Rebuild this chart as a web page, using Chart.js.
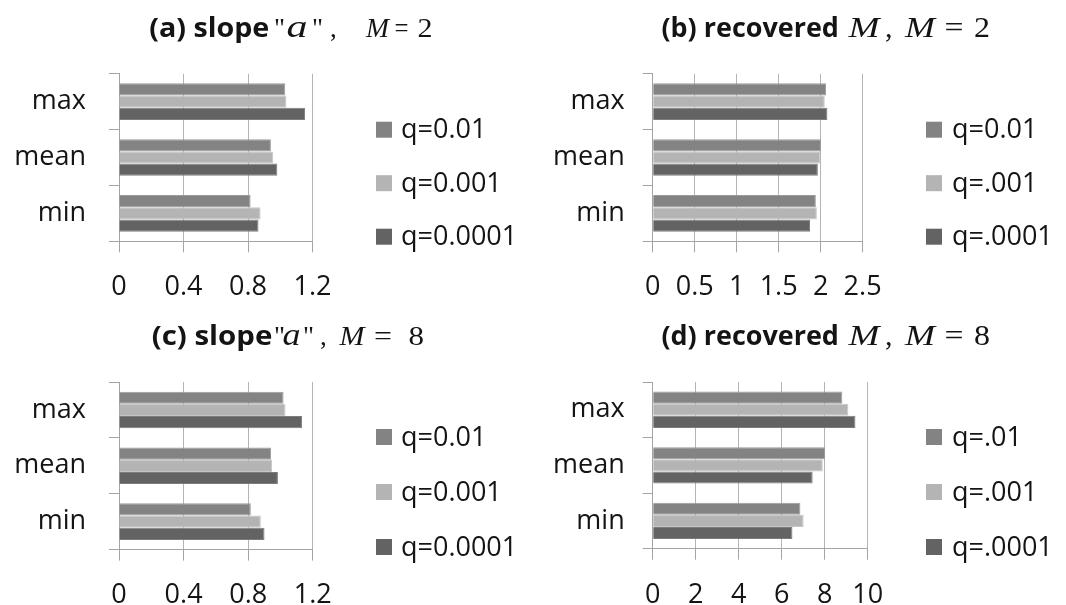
<!DOCTYPE html>
<html>
<head>
<meta charset="utf-8">
<script src="https://cdn.jsdelivr.net/npm/chart.js@4.4.1/dist/chart.umd.min.js"></script>
<style>
  html, body { margin: 0; padding: 0; background: #fff; }
  #wrap { position: relative; width: 1066px; height: 605px; overflow: hidden; }
  canvas { position: absolute; }
</style>
</head>
<body>
<div id="wrap">
  <canvas id="chartA" width="533" height="300" style="left:0;top:0"></canvas>
  <canvas id="chartB" width="533" height="300" style="left:533px;top:0"></canvas>
  <canvas id="chartC" width="533" height="305" style="left:0;top:300px"></canvas>
  <canvas id="chartD" width="533" height="305" style="left:533px;top:300px"></canvas>
</div>
<script>
// categories (top to bottom) and legend labels
const categories = ['max', 'mean', 'min'];
const legendA = ['q=0.01', 'q=0.001', 'q=0.0001'];
const legendB = ['q=0.01', 'q=.001', 'q=.0001'];
const legendD = ['q=.01', 'q=.001', 'q=.0001'];

// (a) slope "a", M = 2
const slopeM2_q01 = [1.031, 0.942, 0.816];
const slopeM2_q001 = [1.038, 0.957, 0.878];
const slopeM2_q0001 = [1.154, 0.982, 0.865];

// (b) recovered M, M = 2
const recM2_q01 = [2.065, 2.004, 1.943];
const recM2_q001 = [2.049, 1.996, 1.955];
const recM2_q0001 = [2.081, 1.967, 1.874];

// (c) slope "a", M = 8
const slopeM8_q01 = [1.019, 0.942, 0.816];
const slopeM8_q001 = [1.031, 0.948, 0.878];
const slopeM8_q0001 = [1.134, 0.984, 0.901];

// (d) recovered M, M = 8
const recM8_q01 = [8.82, 8.02, 6.87];
const recM8_q001 = [9.10, 7.91, 7.02];
const recM8_q0001 = [9.43, 7.44, 6.50];

// value axes: max and step
const slopeAxis = [1.2, 0.4];
const recM2Axis = [2.5, 0.5];
const recM8Axis = [10, 2];

const fillColours = ['#838383', '#b4b4b4', '#636363'];
const edgeColours = ['#9a9a9a', '#c6c6c6', '#7c7c7c'];
const textColour = '#141414';
const gridColour = '#b4b4b4';
const axisColour = '#a4a4a4';
const labelFont = { family: '"Open Sans"', size: 27 };

const BOLD = 'bold 26px "Open Sans"';
const SERIF = '27px "Liberation Serif"';
const ITALIC = 'italic 27px "Liberation Serif"';
const ITALIC_A = 'italic 32px "Liberation Serif"';
const SERIF_L = '30px "Liberation Serif"';
const ITALIC_L = 'italic 30px "Liberation Serif"';

// title with mixed fonts (bold sans + serif math), pieces: [text, font, x, stretchWidth]
const mixedTitlePlugin = {
  id: 'mixedTitle',
  afterDraw(chart, args, o) {
    const { ctx } = chart;
    ctx.save();
    ctx.textBaseline = 'alphabetic';
    ctx.fillStyle = textColour;
    o.pieces.forEach(([text, font, x, w]) => {
      ctx.font = font;
      ctx.save();
      ctx.translate(x, o.baseline);
      if (w) ctx.scale(w / ctx.measureText(text).width, 1);
      ctx.fillText(text, 0, 0);
      ctx.restore();
    });
    ctx.restore();
  }
};

// legend on the right, squares + labels
const sideLegendPlugin = {
  id: 'sideLegend',
  afterDraw(chart, args, o) {
    const { ctx } = chart;
    ctx.save();
    ctx.font = '27px "Open Sans"';
    ctx.textBaseline = 'middle';
    chart.data.datasets.forEach((ds, i) => {
      const cy = chart.chartArea.top + o.firstRow + i * o.rowGap;
      ctx.fillStyle = ds.backgroundColor;
      ctx.fillRect(o.boxX, cy - 8, 16, 16);
      ctx.fillStyle = textColour;
      ctx.fillText(ds.label, o.textX, cy + 1);
    });
    ctx.restore();
  }
};

function buildChart(id, cfg) {
  const canvas = document.getElementById(id);
  const area = cfg.area;
  const datasets = cfg.series.map((values, i) => ({
    label: cfg.legend[i],
    data: values,
    backgroundColor: fillColours[i],
    borderColor: edgeColours[i],
    borderWidth: 1,
    categoryPercentage: 0.655,
    barPercentage: 1,
  }));

  return new Chart(canvas, {
    type: 'bar',
    data: { labels: categories, datasets: datasets },
    options: {
      indexAxis: 'y',
      responsive: false,
      animation: false,
      events: [],
      layout: { padding: { top: area.top, right: canvas.width - area.right, bottom: 0, left: 0 } },
      scales: {
        x: {
          min: 0,
          max: cfg.axis[0],
          ticks: {
            stepSize: cfg.axis[1],
            color: textColour,
            font: labelFont,
            padding: 19,
            maxRotation: 0,
            callback: (value) => String(Math.round(value * 10) / 10),
          },
          grid: { color: gridColour, tickColor: axisColour, tickLength: 11, lineWidth: 1 },
          border: { display: true, color: axisColour },
          afterFit(scale) { scale.height = canvas.height - area.bottom; },
        },
        y: {
          ticks: { color: textColour, font: labelFont, padding: cfg.labelPad },
          grid: { drawOnChartArea: false, offset: true, tickLength: 10, tickColor: axisColour },
          border: { display: true, color: axisColour },
          afterFit(scale) { scale.width = area.left; },
        },
      },
      plugins: {
        legend: { display: false },
        tooltip: { enabled: false },
        mixedTitle: cfg.title,
        sideLegend: cfg.legendPos,
      },
    },
    plugins: [mixedTitlePlugin, sideLegendPlugin],
  });
}

buildChart('chartA', {
  series: [slopeM2_q01, slopeM2_q001, slopeM2_q0001],
  legend: legendA,
  axis: slopeAxis,
  area: { left: 119, right: 312.5, top: 73.7, bottom: 241.3 },
  labelPad: 23,
  title: {
    baseline: 36.7,
    pieces: [['(a) slope', BOLD, 149.3, 120], ['"', SERIF, 274], ['a', ITALIC_A, 286.5, 21], ['"', SERIF, 312],
             [',', SERIF, 330], ['M', ITALIC, 366, 23], ['=', SERIF, 394.5, 14], ['2', SERIF, 417.5, 15]],
  },
  legendPos: { boxX: 376, textX: 401, firstRow: 56, rowGap: 53.5 },
});

buildChart('chartB', {
  series: [recM2_q01, recM2_q001, recM2_q0001],
  legend: legendB,
  axis: recM2Axis,
  area: { left: 119.7, right: 329.6, top: 73.7, bottom: 241.3 },
  labelPad: 18,
  title: {
    baseline: 36.7,
    pieces: [['(b) recovered', BOLD, 128.4, 177.5], ['M', ITALIC_L, 315.5, 31], [',', SERIF_L, 352], ['M', ITALIC_L, 372, 30],
             ['=', SERIF_L, 411.5, 19], ['2', SERIF_L, 441, 16]],
  },
  legendPos: { boxX: 393, textX: 419, firstRow: 56, rowGap: 53.5 },
});

buildChart('chartC', {
  series: [slopeM8_q01, slopeM8_q001, slopeM8_q0001],
  legend: legendA,
  axis: slopeAxis,
  area: { left: 119, right: 312.8, top: 82, bottom: 249.6 },
  labelPad: 23,
  title: {
    baseline: 44.7,
    pieces: [['(c) slope', BOLD, 151.7, 120.7], ['"', SERIF, 274], ['a', ITALIC_A, 282.5, 18], ['"', SERIF, 303],
             [',', SERIF, 320], ['M', ITALIC, 339.5, 25], ['=', SERIF, 374, 18], ['8', SERIF, 408.5, 15.5]],
  },
  legendPos: { boxX: 376, textX: 401, firstRow: 55, rowGap: 55 },
});

buildChart('chartD', {
  series: [recM8_q01, recM8_q001, recM8_q0001],
  legend: legendD,
  axis: recM8Axis,
  area: { left: 119.7, right: 334.7, top: 82, bottom: 248.7 },
  labelPad: 18,
  title: {
    baseline: 44.7,
    pieces: [['(d) recovered', BOLD, 128.4, 177.5], ['M', ITALIC_L, 315.5, 31], [',', SERIF_L, 352], ['M', ITALIC_L, 372, 30],
             ['=', SERIF_L, 411.5, 19], ['8', SERIF_L, 441, 16]],
  },
  legendPos: { boxX: 393, textX: 419, firstRow: 55, rowGap: 55 },
});
</script>
</body>
</html>
